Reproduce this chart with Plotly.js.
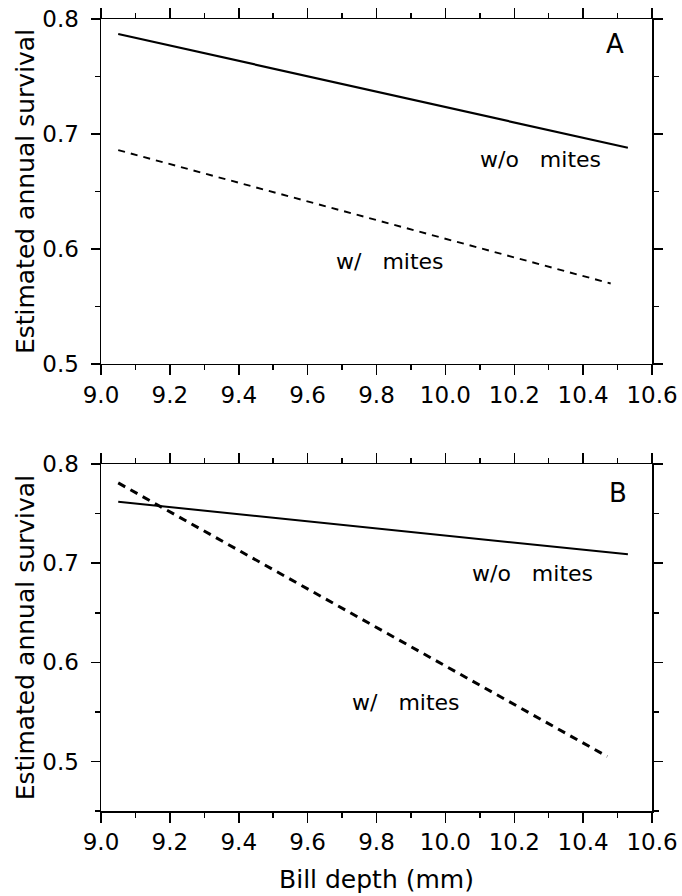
<!DOCTYPE html>
<html><head><meta charset="utf-8">
<script src="https://cdn.plot.ly/plotly-3.0.1.min.js"></script>
<style>html,body{margin:0;padding:0;background:#fff}#chart{width:682px;height:896px}</style>
</head><body><div id="chart"></div>
<script>
// Panel A
const billA_noMites = [9.05, 10.53];
const survA_noMites = [0.787, 0.688];
const billA_mites = [9.05, 10.48];
const survA_mites = [0.686, 0.570];
// Panel B
const billB_noMites = [9.05, 10.53];
const survB_noMites = [0.762, 0.709];
const billB_mites = [9.05, 10.47];
const survB_mites = [0.781, 0.505];
const xTickVals = [9.0, 9.2, 9.4, 9.6, 9.8, 10.0, 10.2, 10.4, 10.6];
const yTickVals = [0.5, 0.6, 0.7, 0.8];

const F = 'DejaVu Sans, sans-serif';
const traces = [
  {x: billA_noMites, y: survA_noMites, xaxis:'x', yaxis:'y', mode:'lines', line:{color:'#000', width:2.2}},
  {x: billA_mites, y: survA_mites, xaxis:'x', yaxis:'y', mode:'lines', line:{color:'#000', width:1.9, dash:'7px,6px'}},
  {x: billB_noMites, y: survB_noMites, xaxis:'x2', yaxis:'y2', mode:'lines', line:{color:'#000', width:2}},
  {x: billB_mites, y: survB_mites, xaxis:'x2', yaxis:'y2', mode:'lines', line:{color:'#000', width:3, dash:'8px,6px'}}
];
function xax(anchor, title) {
  const a = {anchor: anchor, domain:[0,1], range:[9.0,10.6], tickvals:xTickVals, tickformat:'.1f',
    ticks:'outside', ticklen:10, tickwidth:1.5, tickcolor:'#000', showline:true, linecolor:'#000', linewidth:1.5,
    mirror:'ticks', showgrid:false, zeroline:false, tickfont:{family:F, size:23, color:'#000'},
    minor:{dtick:0.1, tick0:9.0, ticks:'outside', ticklen:5, tickwidth:1.5, tickcolor:'#000', showgrid:false}};
  if (title) a.title = {text:title, font:{family:F, size:25, color:'#000'}, standoff:16};
  return a;
}
function yax(anchor, domain, range) {
  return {anchor: anchor, domain: domain, range: range, tickvals:yTickVals, tickformat:'.1f',
    ticks:'outside', ticklen:9, tickwidth:1.5, tickcolor:'#000', showline:true, linecolor:'#000', linewidth:1.5,
    mirror:'ticks', showgrid:false, zeroline:false, tickfont:{family:F, size:23, color:'#000'},
    ticklabelstandoff:7,
    title:{text:'Estimated annual survival', font:{family:F, size:25, color:'#000'}, standoff:0},
    minor:{dtick:0.05, tick0:0.45, ticks:'outside', ticklen:5, tickwidth:1.5, tickcolor:'#000', showgrid:false}};
}
const ann = (t, x, y, xr, yr, sz) => ({text:t, x:x, y:y, xref:xr, yref:yr, showarrow:false,
  font:{family:F, size:sz, color:'#000'}, xanchor:'center', yanchor:'middle'});
const layout = {
  width:682, height:896, paper_bgcolor:'#fff', plot_bgcolor:'#fff', showlegend:false,
  margin:{l:101, r:30, t:19, b:85},
  xaxis: xax('y', null),
  yaxis: yax('x', [0.5644, 1], [0.5, 0.8]),
  xaxis2: xax('y2', 'Bill depth (mm)'),
  yaxis2: yax('x2', [0, 0.438], [0.45, 0.8]),
  annotations: [
    ann('A', 10.493, 0.778, 'x', 'y', 26),
    ann('w/o\u00a0\u00a0\u00a0mites', 10.275, 0.6776, 'x', 'y', 22),
    ann('w/\u00a0\u00a0\u00a0mites', 9.839, 0.589, 'x', 'y', 22),
    ann('B', 10.50, 0.771, 'x2', 'y2', 26),
    ann('w/o\u00a0\u00a0\u00a0mites', 10.252, 0.6896, 'x2', 'y2', 22),
    ann('w/\u00a0\u00a0\u00a0mites', 9.886, 0.559, 'x2', 'y2', 22)
  ]
};
Plotly.newPlot('chart', traces, layout, {staticPlot:true, displayModeBar:false});
</script></body></html>
